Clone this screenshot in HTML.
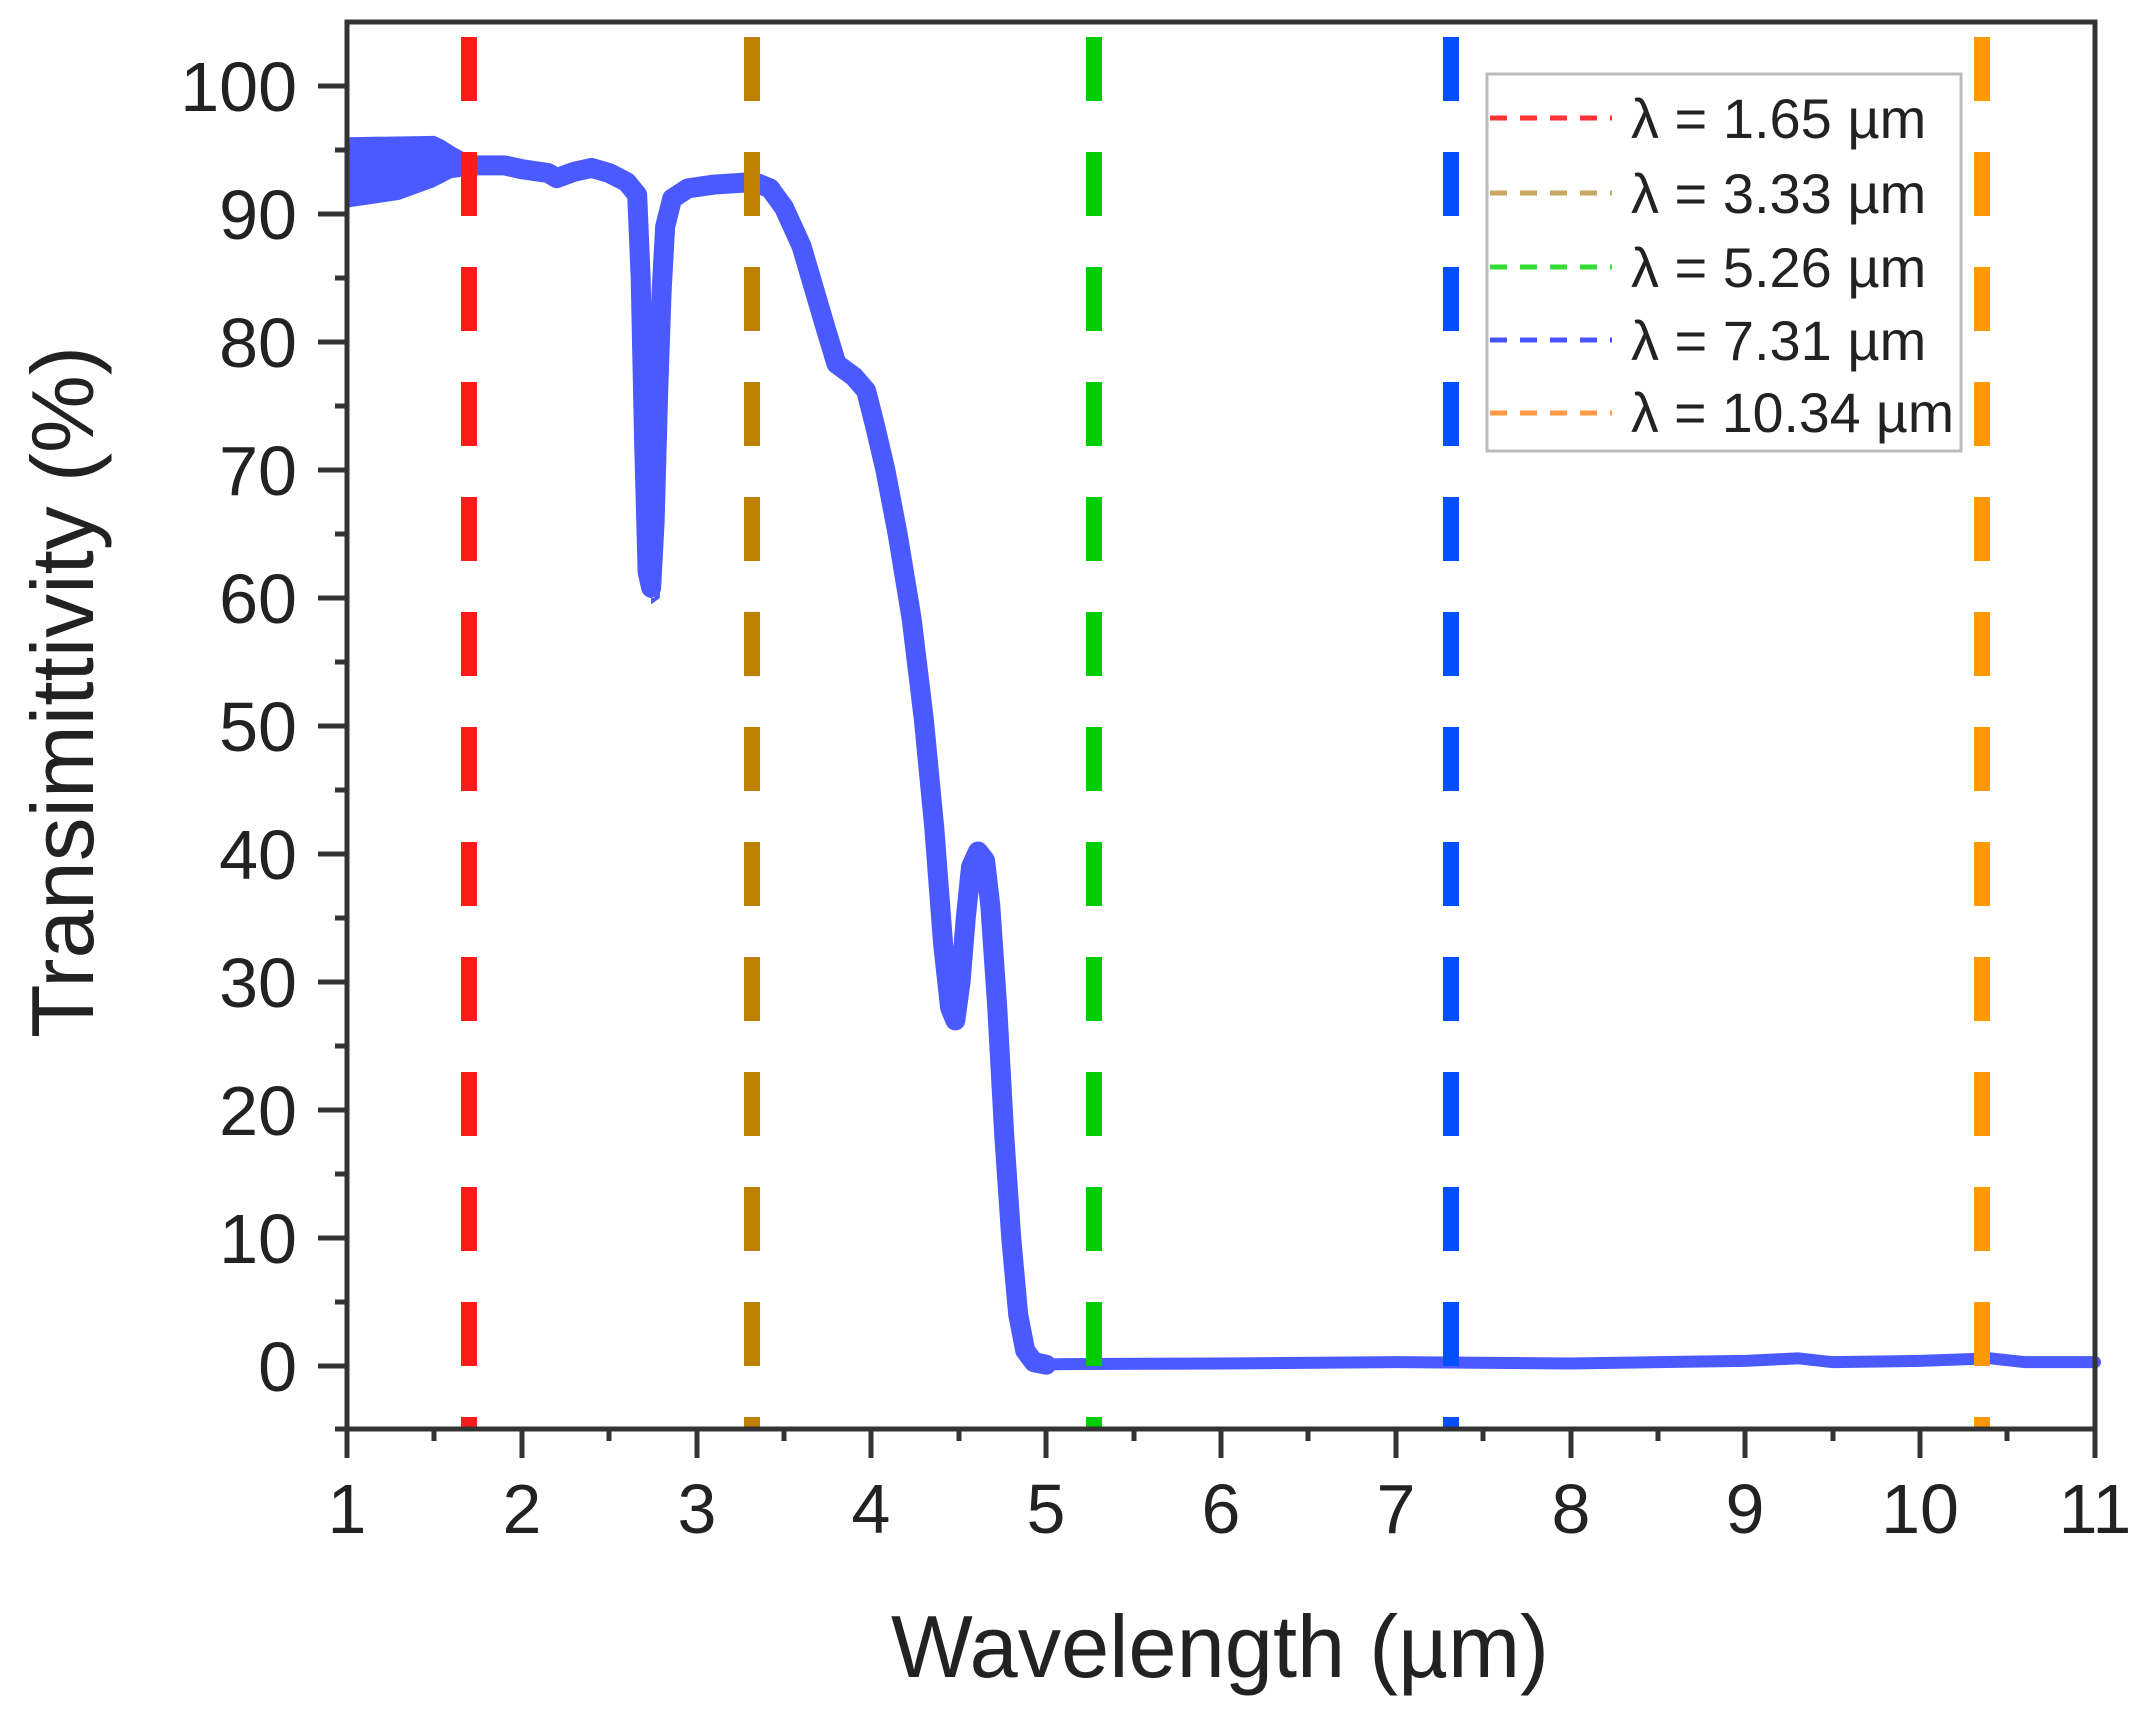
<!DOCTYPE html>
<html><head><meta charset="utf-8"><style>
html,body{margin:0;padding:0;background:#fff;}
svg{display:block;}
text{font-family:"Liberation Sans",Arial,sans-serif;fill:#222;}
</style></head><body>
<svg width="2145" height="1716" viewBox="0 0 2145 1716" xmlns="http://www.w3.org/2000/svg">
<rect width="2145" height="1716" fill="#fff"/>
<!-- curve -->
<g transform="translate(347,1366) scale(174.8,-12.8)">
<polygon fill="#4a5aff" points="0,96 0.5,96.1 0.55,95.8 0.62,95.2 0.7,94.6 0.7,93 0.6,92.8 0.5,92.1 0.3,91.1 0,90.5"/>
<polygon fill="#4a5aff" points="1.69,80 1.71,66 1.73,60 1.76,60 1.78,68 1.80,80 1.79,60 1.74,59.5"/>
<polyline fill="none" stroke="#4a5aff" stroke-width="20" vector-effect="non-scaling-stroke" stroke-linejoin="round" stroke-linecap="round"
points="0.55,93.6 0.7,93.8 0.9,93.8 1.0,93.5 1.15,93.2 1.2,92.8 1.3,93.3 1.4,93.6 1.5,93.2 1.6,92.5 1.66,91.5 1.68,85 1.70,72 1.72,62 1.74,60.8 1.76,66 1.78,76 1.80,84 1.82,89 1.86,91.2 1.95,92 2.1,92.3 2.33,92.5 2.42,92 2.5,90.5 2.6,87.5 2.74,81 2.8,78.3 2.9,77.3 2.97,76.2 3.02,73.5 3.08,70 3.15,65 3.23,58.4 3.3,50.5 3.36,42 3.41,33 3.45,28 3.48,27 3.51,30 3.54,35 3.57,39 3.61,40.2 3.65,39.5 3.68,36 3.72,28 3.76,18 3.8,10 3.84,4 3.88,1.2 3.93,0.3 4.0,0.1"/>
<polyline fill="none" stroke="#4a5aff" stroke-width="12" vector-effect="non-scaling-stroke" stroke-linejoin="round" stroke-linecap="round"
points="3.95,0.1 4.1,0.15 5,0.2 6,0.3 7,0.2 7.5,0.3 8,0.4 8.3,0.6 8.5,0.3 9,0.4 9.4,0.6 9.6,0.3 10,0.3"/>
</g>
<!-- vertical dashed lines -->
<g stroke-width="16" stroke-dasharray="64 51" fill="none">
<line x1="469" y1="37" x2="469" y2="1429" stroke="#ff1a1a"/>
<line x1="752" y1="37" x2="752" y2="1429" stroke="#bf8000"/>
<line x1="1094" y1="37" x2="1094" y2="1429" stroke="#00cc00"/>
<line x1="1451" y1="37" x2="1451" y2="1429" stroke="#0050ff"/>
<line x1="1982" y1="37" x2="1982" y2="1429" stroke="#ff9900"/>
</g>
<!-- frame -->
<rect x="347" y="22" width="1748" height="1407" fill="none" stroke="#333" stroke-width="5"/>
<!-- y ticks -->
<g stroke="#333" stroke-width="5">
<line x1="318" y1="1366" x2="347" y2="1366"/><line x1="318" y1="1238" x2="347" y2="1238"/>
<line x1="318" y1="1110" x2="347" y2="1110"/><line x1="318" y1="982" x2="347" y2="982"/>
<line x1="318" y1="854" x2="347" y2="854"/><line x1="318" y1="726" x2="347" y2="726"/>
<line x1="318" y1="598" x2="347" y2="598"/><line x1="318" y1="470" x2="347" y2="470"/>
<line x1="318" y1="342" x2="347" y2="342"/><line x1="318" y1="214" x2="347" y2="214"/>
<line x1="318" y1="86" x2="347" y2="86"/>
<line x1="335" y1="1302" x2="347" y2="1302"/><line x1="335" y1="1174" x2="347" y2="1174"/>
<line x1="335" y1="1046" x2="347" y2="1046"/><line x1="335" y1="918" x2="347" y2="918"/>
<line x1="335" y1="790" x2="347" y2="790"/><line x1="335" y1="662" x2="347" y2="662"/>
<line x1="335" y1="534" x2="347" y2="534"/><line x1="335" y1="406" x2="347" y2="406"/>
<line x1="335" y1="278" x2="347" y2="278"/><line x1="335" y1="150" x2="347" y2="150"/>
<line x1="335" y1="1429" x2="347" y2="1429"/>
</g>
<!-- x ticks -->
<g stroke="#333" stroke-width="5">
<line x1="347" y1="1429" x2="347" y2="1458"/><line x1="522" y1="1429" x2="522" y2="1458"/>
<line x1="697" y1="1429" x2="697" y2="1458"/><line x1="871" y1="1429" x2="871" y2="1458"/>
<line x1="1046" y1="1429" x2="1046" y2="1458"/><line x1="1221" y1="1429" x2="1221" y2="1458"/>
<line x1="1396" y1="1429" x2="1396" y2="1458"/><line x1="1571" y1="1429" x2="1571" y2="1458"/>
<line x1="1745" y1="1429" x2="1745" y2="1458"/><line x1="1920" y1="1429" x2="1920" y2="1458"/>
<line x1="2095" y1="1429" x2="2095" y2="1458"/>
<line x1="434" y1="1429" x2="434" y2="1441"/><line x1="609" y1="1429" x2="609" y2="1441"/>
<line x1="784" y1="1429" x2="784" y2="1441"/><line x1="959" y1="1429" x2="959" y2="1441"/>
<line x1="1134" y1="1429" x2="1134" y2="1441"/><line x1="1308" y1="1429" x2="1308" y2="1441"/>
<line x1="1483" y1="1429" x2="1483" y2="1441"/><line x1="1658" y1="1429" x2="1658" y2="1441"/>
<line x1="1833" y1="1429" x2="1833" y2="1441"/><line x1="2007" y1="1429" x2="2007" y2="1441"/>
</g>
<!-- y tick labels -->
<g font-size="70" text-anchor="end">
<text x="297" y="1391">0</text><text x="297" y="1263">10</text><text x="297" y="1135">20</text>
<text x="297" y="1007">30</text><text x="297" y="879">40</text><text x="297" y="751">50</text>
<text x="297" y="623">60</text><text x="297" y="495">70</text><text x="297" y="367">80</text>
<text x="297" y="239">90</text><text x="297" y="111">100</text>
</g>
<!-- x tick labels -->
<g font-size="70" text-anchor="middle">
<text x="347" y="1533">1</text><text x="522" y="1533">2</text><text x="697" y="1533">3</text>
<text x="871" y="1533">4</text><text x="1046" y="1533">5</text><text x="1221" y="1533">6</text>
<text x="1396" y="1533">7</text><text x="1571" y="1533">8</text><text x="1745" y="1533">9</text>
<text x="1920" y="1533">10</text><text x="2095" y="1533">11</text>
</g>
<!-- axis titles -->
<text x="1220" y="1677" font-size="88" text-anchor="middle" textLength="658" lengthAdjust="spacingAndGlyphs">Wavelength (µm)</text>
<text transform="translate(93,692) rotate(-90)" font-size="88" text-anchor="middle" textLength="692" lengthAdjust="spacingAndGlyphs">Transimittivity (%)</text>
<!-- legend -->
<rect x="1487" y="74" width="474" height="377" fill="#fff" stroke="#bbb" stroke-width="3"/>
<g stroke-width="5" stroke-dasharray="17 13">
<line x1="1490" y1="118" x2="1612" y2="118" stroke="#ff3333"/>
<line x1="1490" y1="193" x2="1612" y2="193" stroke="#c8a860"/>
<line x1="1490" y1="267" x2="1612" y2="267" stroke="#33dd33"/>
<line x1="1490" y1="340" x2="1612" y2="340" stroke="#4455ff"/>
<line x1="1490" y1="413" x2="1612" y2="413" stroke="#ff9944"/>
</g>
<g font-size="56">
<text x="1631" y="138">λ = 1.65 µm</text>
<text x="1631" y="213">λ = 3.33 µm</text>
<text x="1631" y="287">λ = 5.26 µm</text>
<text x="1631" y="360">λ = 7.31 µm</text>
<text x="1631" y="432" textLength="323" lengthAdjust="spacingAndGlyphs">λ = 10.34 µm</text>
</g>
</svg>
</body></html>
